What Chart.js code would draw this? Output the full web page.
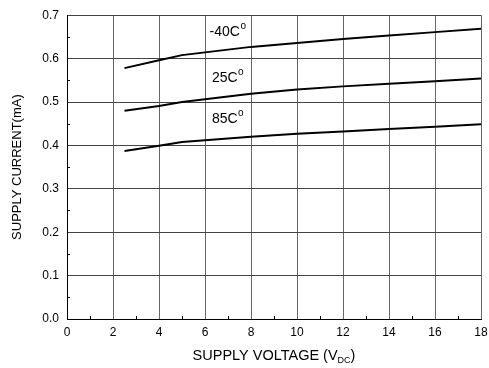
<!DOCTYPE html>
<html>
<head>
<meta charset="utf-8">
<script src="https://cdn.jsdelivr.net/npm/chart.js@4"></script>
<style>
  body { margin: 0; background: #fff; }
  #wrap { width: 489px; height: 368px; }
</style>
</head>
<body>
<div id="wrap"><canvas id="Chart" width="489" height="368"></canvas></div>
<script>
// 電源電圧 (V)
let voltage = [2.5, 4, 5, 8, 10, 12, 14, 16, 18];
// 各温度での消費電流 (mA)
let currentM40 = [0.578, 0.596, 0.608, 0.627, 0.636, 0.645, 0.653, 0.661, 0.669];
let current25 = [0.480, 0.491, 0.500, 0.519, 0.529, 0.536, 0.542, 0.548, 0.554];
let current85 = [0.387, 0.399, 0.408, 0.420, 0.427, 0.432, 0.438, 0.443, 0.449];
// 曲線ラベル
let curveLabels = ['-40C', '25C', '85C'];
let labelX = [6.2, 6.3, 6.3];
let labelY = [0.661, 0.554, 0.460];

function toPoints(ys) {
	return voltage.map((v, i) => ({ x: v, y: ys[i] }));
}

const FONT = '"Liberation Sans", Arial, sans-serif';

// 曲線ラベル・小目盛り・X軸タイトルの描画
let extraPlugin = {
	id: 'extra',
	afterDraw(chart) {
		let ctx = chart.ctx;
		let xs = chart.scales.x, ys = chart.scales.y;
		let area = chart.chartArea;
		ctx.save();
		ctx.strokeStyle = '#000';
		ctx.lineWidth = 1;
		// 小目盛り
		for (let v = 1; v < 18; v += 2) {
			let px = Math.round(xs.getPixelForValue(v)) + 0.5;
			ctx.beginPath();
			ctx.moveTo(px, area.bottom);
			ctx.lineTo(px, area.bottom - 3);
			ctx.stroke();
		}
		for (let v = 0.05; v < 0.7; v += 0.1) {
			let py = Math.round(ys.getPixelForValue(v)) + 0.5;
			ctx.beginPath();
			ctx.moveTo(area.left, py);
			ctx.lineTo(area.left + 3, py);
			ctx.stroke();
		}
		// 温度ラベル
		ctx.fillStyle = '#000';
		ctx.textBaseline = 'middle';
		ctx.textAlign = 'left';
		curveLabels.forEach((t, i) => {
			let px = xs.getPixelForValue(labelX[i]);
			let py = ys.getPixelForValue(labelY[i]);
			ctx.font = '14px ' + FONT;
			ctx.fillText(t, px, py);
			let w = ctx.measureText(t).width;
			ctx.font = '10px ' + FONT;
			ctx.fillText('o', px + w + 0.5, py - 6);
		});
		// X軸タイトル (下付き文字)
		let main = 'SUPPLY VOLTAGE (V';
		let sub = 'DC';
		let tail = ')';
		ctx.textBaseline = 'alphabetic';
		ctx.font = '14.5px ' + FONT;
		let w1 = ctx.measureText(main).width;
		let w3 = ctx.measureText(tail).width;
		ctx.font = '9px ' + FONT;
		let w2 = ctx.measureText(sub).width;
		let cx = (area.left + area.right) / 2;
		let sx = cx - (w1 + w2 + w3) / 2;
		let base = 360;
		ctx.font = '14.5px ' + FONT;
		ctx.fillText(main, sx, base);
		ctx.font = '9px ' + FONT;
		ctx.fillText(sub, sx + w1, base + 3);
		ctx.font = '14.5px ' + FONT;
		ctx.fillText(tail, sx + w1 + w2, base);
		ctx.restore();
	}
};

let lineConfig = {
	type: 'line',
	data: {
		datasets: [{
			label: '-40C',
			data: toPoints(currentM40),
		}, {
			label: '25C',
			data: toPoints(current25),
		}, {
			label: '85C',
			data: toPoints(current85),
		}].map(d => Object.assign(d, {
			borderColor: '#000',
			borderWidth: 2,
			pointRadius: 0,
			tension: 0,
			fill: false,
		})),
	},
	options: {
		responsive: false,
		animation: false,
		layout: { padding: { top: 13, right: 8, left: 0, bottom: 0 } },
		plugins: {
			legend: { display: false },
			tooltip: { enabled: false },
		},
		scales: {
			x: {
				type: 'linear',
				min: 0,
				max: 18,
				ticks: {
					stepSize: 2,
					color: '#000',
					padding: 6,
					font: { family: FONT, size: 12 },
				},
				grid: { color: '#666', lineWidth: 1, tickLength: 0 },
				border: { color: '#000', width: 1 },
				afterFit(scale) {
					scale.height = 49;
					scale.paddingRight = 0;
					scale.paddingLeft = 0;
				},
			},
			y: {
				min: 0,
				max: 0.7,
				ticks: {
					stepSize: 0.1,
					color: '#000',
					padding: 8,
					font: { family: FONT, size: 12 },
					callback: v => v.toFixed(1),
				},
				grid: { color: '#444', lineWidth: 1, tickLength: 0 },
				border: { color: '#000', width: 1 },
				title: {
					display: true,
					text: 'SUPPLY CURRENT(mA)',
					color: '#000',
					font: { family: FONT, size: 13 },
					padding: { top: 10, bottom: 4 },
				},
				afterFit(scale) { scale.width = 67; },
			},
		},
	},
	plugins: [extraPlugin],
};
let lineChart = new Chart(document.getElementById('Chart'), lineConfig);
</script>
</body>
</html>
